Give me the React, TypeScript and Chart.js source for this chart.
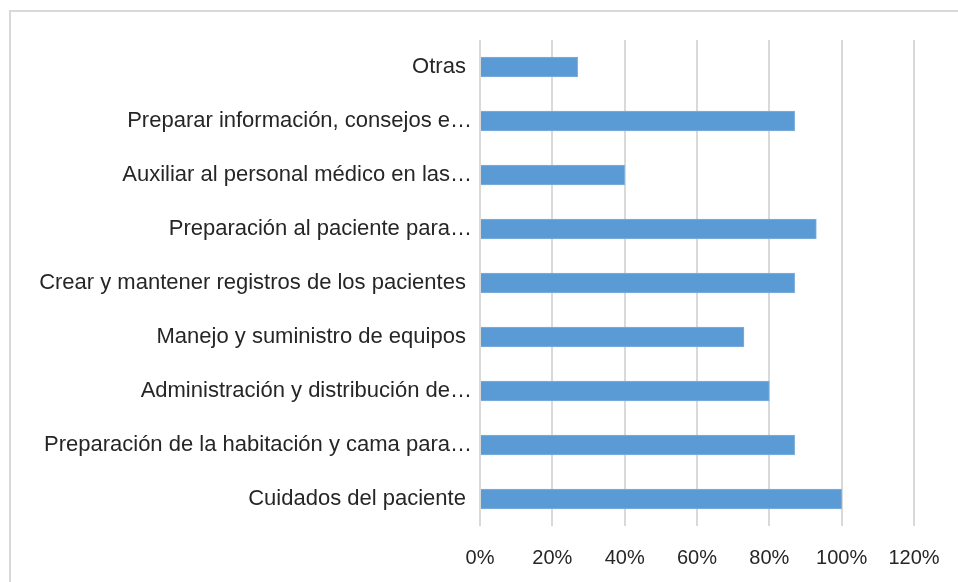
import React, { useEffect, useRef } from "react";
import { Chart, registerables } from "chart.js";

Chart.register(...registerables);

const categories: string[] = [
  "Otras ",
  "Preparar información, consejos e…",
  "Auxiliar al personal médico en las…",
  "Preparación al paciente para…",
  "Crear y mantener registros de los pacientes ",
  "Manejo y suministro de equipos ",
  "Administración y distribución de…",
  "Preparación de la habitación y cama para…",
  "Cuidados del paciente ",
];

const values: number[] = [0.27, 0.87, 0.4, 0.93, 0.87, 0.73, 0.8, 0.87, 1.0];

const xTicks: number[] = [0, 0.2, 0.4, 0.6, 0.8, 1.0, 1.2];

export default function App() {
  const canvasRef = useRef<HTMLCanvasElement | null>(null);

  useEffect(() => {
    const canvas = canvasRef.current;
    if (!canvas) return;
    const chart = new Chart(canvas, {
      type: "bar",
      data: {
        labels: categories,
        datasets: [
          {
            data: values,
            backgroundColor: "#5B9BD5",
            borderColor: "#7fb0de",
            borderWidth: 1,
            barThickness: 20,
          },
        ],
      },
      options: {
        indexAxis: "y",
        animation: false,
        responsive: false,
        maintainAspectRatio: false,
        layout: { padding: { left: 0, top: 40, right: 44, bottom: 0 } },
        plugins: {
          legend: { display: false },
          tooltip: { enabled: false },
        },
        scales: {
          x: {
            min: 0,
            max: 1.2,
            afterBuildTicks: (scale: any) => {
              scale.ticks = xTicks.map((v) => ({ value: v }));
            },
            afterFit: (scale: any) => {
              scale.height = 56;
              scale.paddingLeft = 0;
              scale.paddingRight = 0;
            },
            grid: {
              color: "#d9d9d9",
              lineWidth: 2,
              drawTicks: false,
            },
            border: { display: false },
            ticks: {
              padding: 20,
              color: "#262626",
              font: { family: "'Liberation Sans', Arial, sans-serif", size: 20 },
              callback: (v: any) => Math.round(Number(v) * 100) + "%",
            },
          },
          y: {
            afterFit: (scale: any) => {
              scale.width = 480;
            },
            grid: { display: false, drawTicks: false },
            border: { display: false },
            ticks: {
              padding: 8,
              autoSkip: false,
              color: "#262626",
              font: { family: "'Liberation Sans', Arial, sans-serif", size: 22 },
            },
          },
        },
      },
    });
    return () => chart.destroy();
  }, []);

  return (
    <div style={{ position: "absolute", left: 0, top: 0, width: 958, height: 582, background: "#fff", overflow: "hidden" }}>
      <div
        style={{
          position: "absolute",
          left: 9,
          top: 10,
          width: 1000,
          height: 1000,
          borderTop: "2px solid #d9d9d9",
          borderLeft: "2px solid #d9d9d9",
        }}
      />
      <canvas
        ref={canvasRef}
        width={958}
        height={582}
        style={{ position: "absolute", left: 0, top: 0, width: 958, height: 582 }}
      />
    </div>
  );
}
